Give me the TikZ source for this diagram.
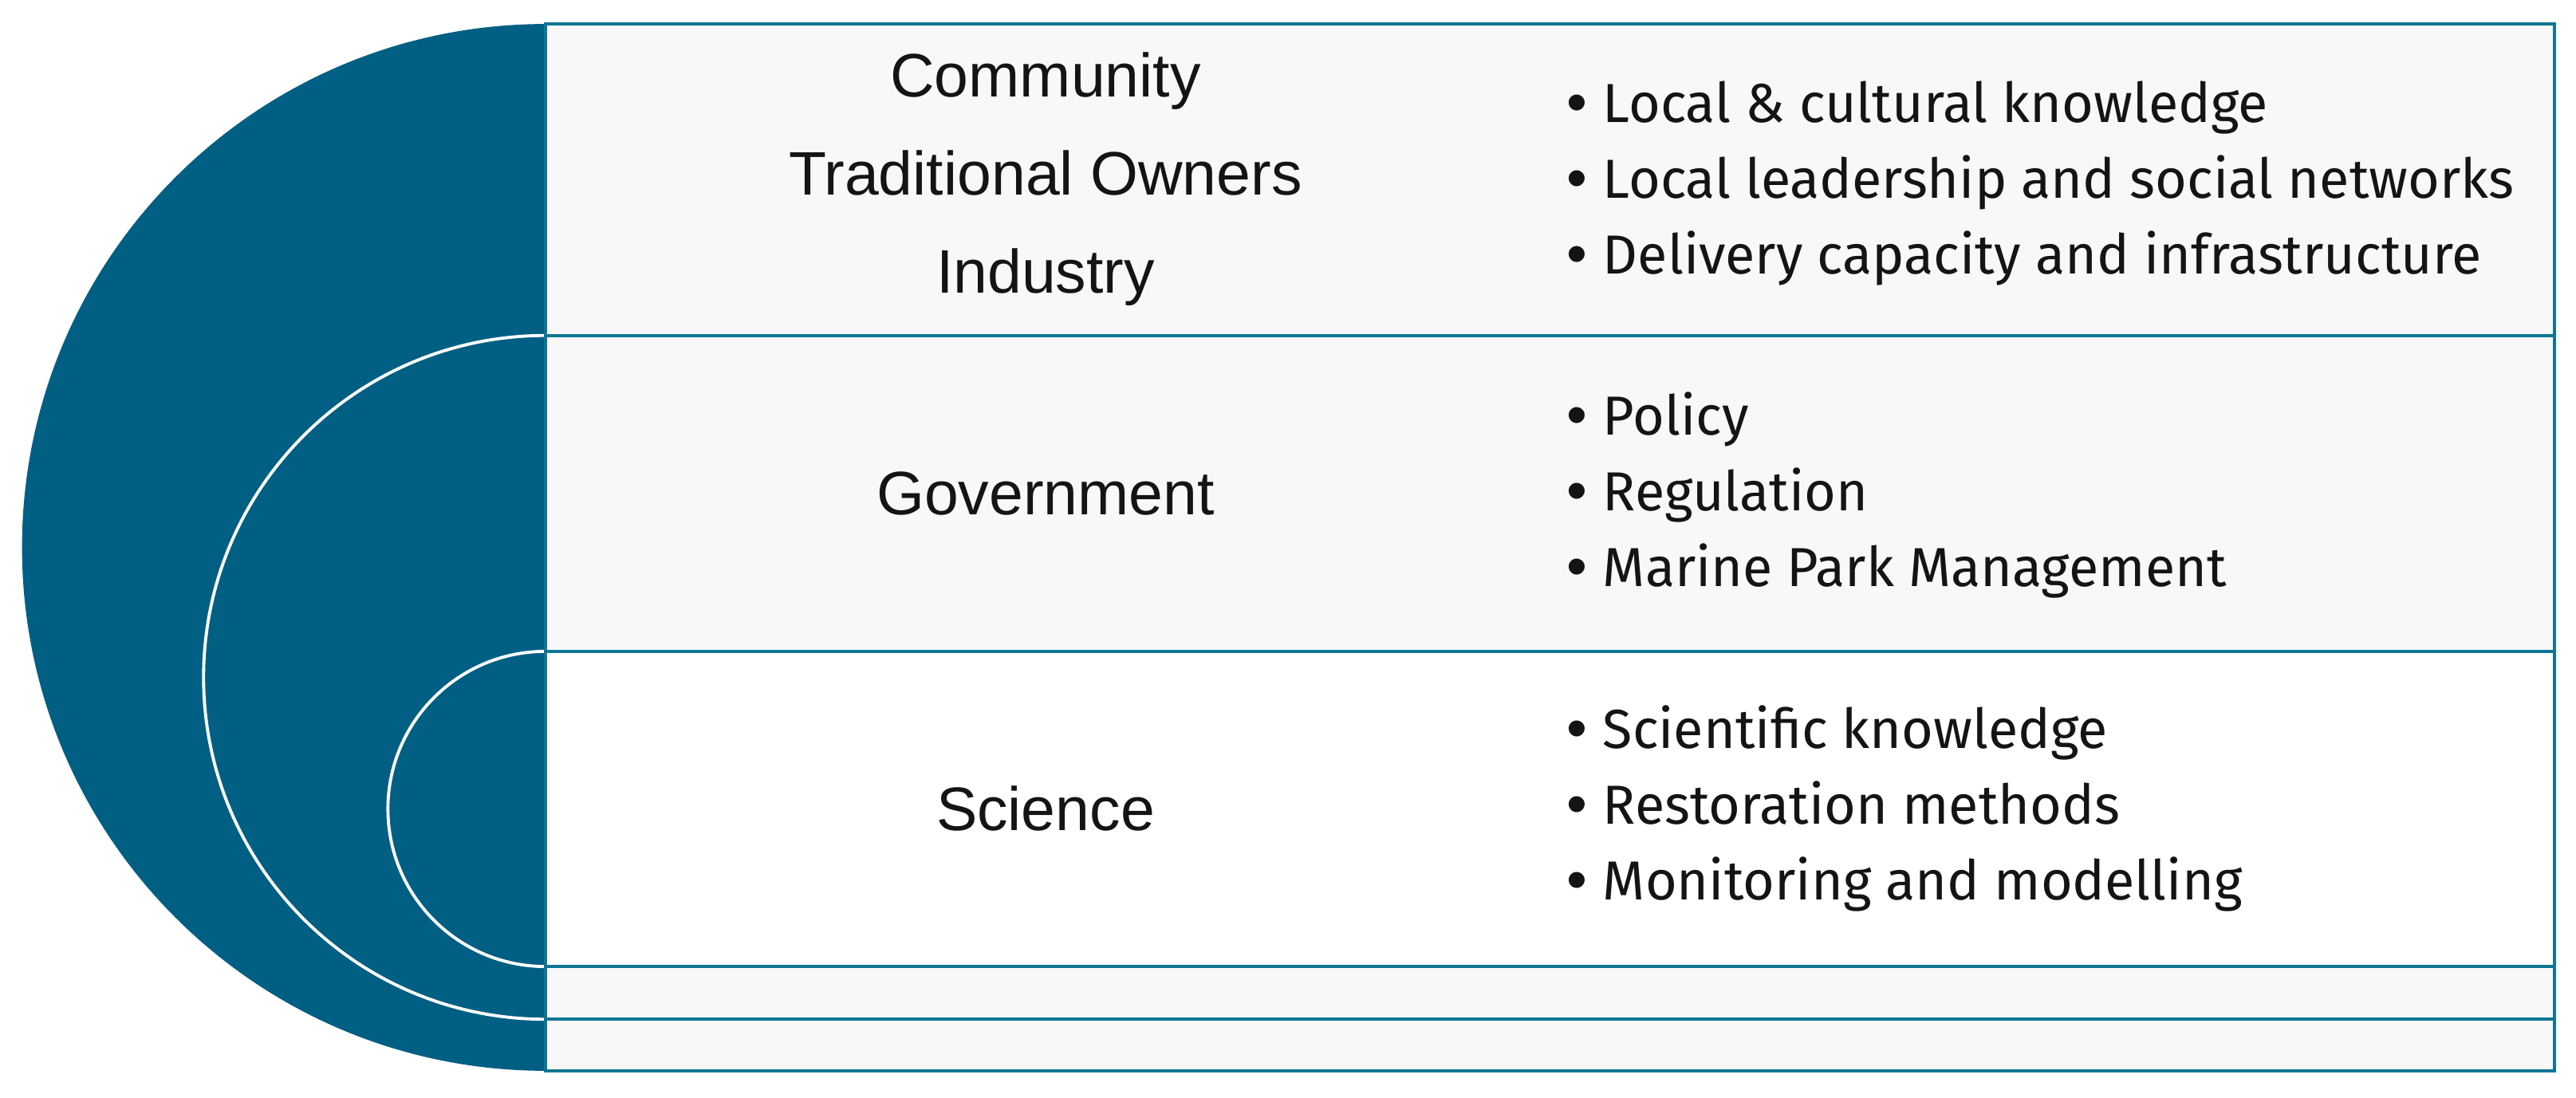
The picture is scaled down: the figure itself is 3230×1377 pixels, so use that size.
\documentclass[tikz,border=0pt]{standalone}
\usepackage{fontspec}
\setmainfont{Liberation Sans}
\newfontfamily\listfont[FakeStretch=0.99]{Fira Sans}
\newfontfamily\dotfont{Liberation Sans}
\newcommand\lbul{{\dotfont\fontsize{21}{27}\selectfont •}\hspace{5.5pt}}
\definecolor{discblue}{RGB}{0,95,131}
\definecolor{lineteal}{RGB}{14,118,148}
\definecolor{rowgrey}{RGB}{248,248,248}
\definecolor{inktext}{RGB}{20,20,20}
\begin{document}
\begin{tikzpicture}[x=0.01cm,y=-0.01cm,
  leftlabel/.style={font=\fontsize{21.9}{35}\selectfont, align=center, text=inktext, inner sep=0pt},
  rightlist/.style={font=\listfont\fontsize{19.6}{27}\selectfont, align=left, anchor=west, text=inktext, inner sep=0pt},
  rowline/.style={draw=lineteal, line width=1.2pt},
  arcline/.style={draw=white, line width=1.1pt}]
\fill[white] (0,0) rectangle (3230,1377);
\useasboundingbox (0,0) rectangle (3230,1377);
% row fills
\fill[rowgrey] (684,30) rectangle (3203,817);
\fill[white] (684,817) rectangle (3203,1212);
\fill[rowgrey] (684,1212) rectangle (3203,1343);
% half disc with nested arcs
\begin{scope}
  \clip (0,0) rectangle (684,1377);
  \fill[discblue] (684,686.5) circle[radius=6.56cm];
  \draw[arcline] (684,849.5) circle[radius=4.285cm];
  \draw[arcline] (684,1014.5) circle[radius=1.975cm];
\end{scope}
% table lines
\draw[rowline] (684,30) rectangle (3203,1343);
\foreach \yy in {421,817,1212,1278} \draw[rowline] (684,\yy) -- (3203,\yy);
% texts
\node[leftlabel] (community) at (1311,225) {Community\\Traditional Owners\\Industry};
\node[leftlabel] (government) at (1311,619) {Government};
\node[leftlabel] (science) at (1311,1014) {Science};
\node[rightlist] (commlist) at (1964,230) {\lbul Local \& cultural knowledge\\\lbul Local leadership and social networks\\\lbul Delivery capacity and infrastructure};
\node[rightlist] (govlist) at (1964,621) {\lbul Policy\\\lbul Regulation\\\lbul Marine Park Management};
\node[rightlist] (scilist) at (1964,1014) {\lbul Scientific knowledge\\\lbul Restoration methods\\\lbul Monitoring and modelling};
\end{tikzpicture}
\end{document}
